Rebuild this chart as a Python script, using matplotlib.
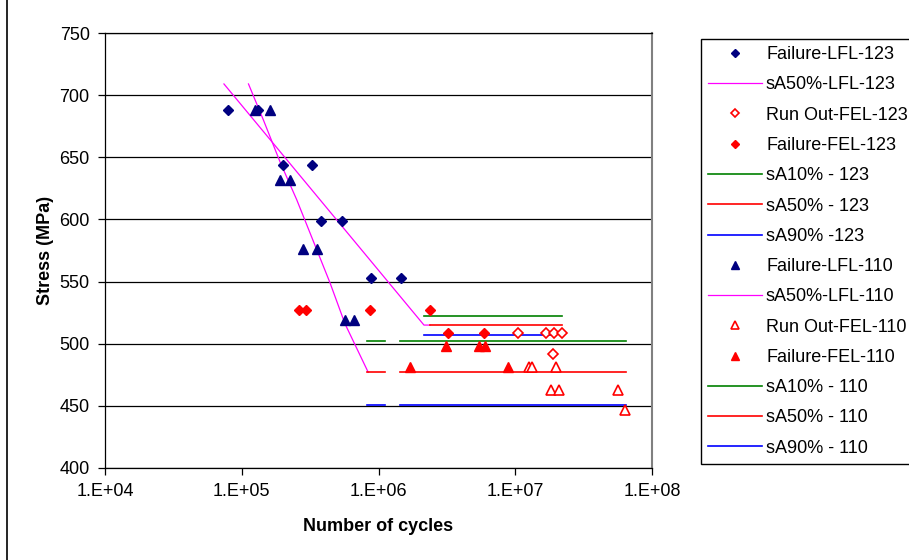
import numpy as np
import matplotlib
matplotlib.use("Agg")
import matplotlib.pyplot as plt
from matplotlib.lines import Line2D

plt.rcParams['font.family'] = ['Liberation Sans', 'DejaVu Sans']

# ---------------- data ----------------
fail_lfl_123_N = [7.98e4, 1.32e5, 1.99e5, 3.27e5, 3.78e5, 5.43e5, 8.81e5, 1.46e6]
fail_lfl_123_S = [688, 688, 644, 644, 599, 599, 553, 553]

sa50_lfl_123_N = [7.41e4, 2.15e6, 2.38e6]
sa50_lfl_123_S = [709, 515, 515]

runout_fel_123_N = [1.05e7, 1.67e7, 1.92e7, 2.19e7, 1.89e7]
runout_fel_123_S = [509, 509, 509, 509, 492]

fail_fel_123_N = [2.62e5, 2.95e5, 8.63e5, 2.38e6, 3.21e6, 5.91e6]
fail_fel_123_S = [527, 527, 527, 527, 509, 509]

sa10_123_N = [2.15e6, 2.19e7]
sa10_123_S = [522, 522]
sa50_123_N = [2.38e6, 2.19e7]
sa50_123_S = [515, 515]
sa90_123_N = [2.15e6, 1.95e7]
sa90_123_S = [507, 507]

fail_lfl_110_N = [1.24e5, 1.61e5, 1.90e5, 2.25e5, 2.81e5, 3.55e5, 5.69e5, 6.59e5]
fail_lfl_110_S = [688, 688, 632, 632, 576, 576, 519, 519]

sa50_lfl_110_N = [1.12e5, 1.44e5, 1.91e5, 2.52e5, 3.16e5, 4.42e5, 5.69e5, 8.41e5]
sa50_lfl_110_S = [709, 680, 646, 616, 589, 549, 516, 477]

runout_fel_110_N = [1.26e7, 1.32e7, 1.99e7, 1.84e7, 2.10e7, 5.64e7, 6.35e7]
runout_fel_110_S = [481, 481, 481, 463, 463, 463, 447]

fail_fel_110_N = [1.70e6, 3.12e6, 5.46e6, 6.01e6, 8.89e6]
fail_fel_110_S = [481, 498, 498, 498, 481]

sa_110_N = [8.28e5, 1.12e6, np.nan, 1.44e6, 6.43e7]
sa10_110_S = [502, 502, np.nan, 502, 502]
sa50_110_S = [477, 477, np.nan, 477, 477]
sa90_110_S = [451, 451, np.nan, 451, 451]

y_ticks = [400, 450, 500, 550, 600, 650, 700, 750]
x_ticks = [1e4, 1e5, 1e6, 1e7, 1e8]
x_tick_labels = ["1.E+04", "1.E+05", "1.E+06", "1.E+07", "1.E+08"]

labels = ["Failure-LFL-123", "sA50%-LFL-123", "Run Out-FEL-123", "Failure-FEL-123",
          "sA10% - 123", "sA50% - 123", "sA90% -123",
          "Failure-LFL-110", "sA50%-LFL-110", "Run Out-FEL-110", "Failure-FEL-110",
          "sA10% - 110", "sA50% - 110", "sA90% - 110"]

# ---------------- figure ----------------
W, H = 909, 560
fig = plt.figure(figsize=(W / 100, H / 100), dpi=100)
ax = fig.add_axes([105 / W, 1 - 468 / H, 547 / W, 435 / H])

navy = '#000080'
mag = '#FF00FF'
red = '#FF0000'
green = '#008000'
blue = '#0000FF'

for y in y_ticks:
    ax.axhline(y, color='black', lw=0.9, zorder=0)

dms = 5.3
tms = 6.8
h = []
h.append(ax.plot(fail_lfl_123_N, fail_lfl_123_S, ls='none', marker='D', ms=dms, color=navy, zorder=5)[0])
h.append(ax.plot(sa50_lfl_123_N, sa50_lfl_123_S, color=mag, lw=0.9, zorder=3)[0])
h.append(ax.plot(runout_fel_123_N, runout_fel_123_S, ls='none', marker='D', ms=dms, mfc='white',
                 mec=red, mew=1.2, zorder=5)[0])
h.append(ax.plot(fail_fel_123_N, fail_fel_123_S, ls='none', marker='D', ms=dms, color=red, zorder=5)[0])
h.append(ax.plot(sa10_123_N, sa10_123_S, color=green, lw=1.2, zorder=3)[0])
h.append(ax.plot(sa50_123_N, sa50_123_S, color=red, lw=1.2, zorder=3)[0])
h.append(ax.plot(sa90_123_N, sa90_123_S, color=blue, lw=1.2, zorder=3)[0])
h.append(ax.plot(fail_lfl_110_N, fail_lfl_110_S, ls='none', marker='^', ms=tms, color=navy, zorder=5)[0])
h.append(ax.plot(sa50_lfl_110_N, sa50_lfl_110_S, color=mag, lw=0.9, zorder=3)[0])
h.append(ax.plot(runout_fel_110_N, runout_fel_110_S, ls='none', marker='^', ms=tms, mfc='white',
                 mec=red, mew=1.2, zorder=5)[0])
h.append(ax.plot(fail_fel_110_N, fail_fel_110_S, ls='none', marker='^', ms=tms, color=red, zorder=5)[0])
h.append(ax.plot(sa_110_N, sa10_110_S, color=green, lw=1.2, zorder=3)[0])
h.append(ax.plot(sa_110_N, sa50_110_S, color=red, lw=1.2, zorder=3)[0])
h.append(ax.plot(sa_110_N, sa90_110_S, color=blue, lw=1.2, zorder=3)[0])

ax.set_xscale('log')
ax.set_xlim(1e4, 1e8)
ax.set_ylim(400, 750)
ax.set_xticks(x_ticks)
ax.set_xticklabels(x_tick_labels)
ax.xaxis.set_minor_locator(matplotlib.ticker.NullLocator())
ax.set_yticks(y_ticks)
ax.set_yticklabels([str(v) for v in y_ticks])
ax.tick_params(axis='both', direction='out', length=5, width=0.9, color='black',
               labelsize=13)
ax.tick_params(axis='x', pad=6)
ax.tick_params(axis='y', pad=6)

for s in ['left', 'bottom', 'top']:
    ax.spines[s].set_color('black')
    ax.spines[s].set_linewidth(0.9)
ax.spines['right'].set_color('#808080')
ax.spines['right'].set_linewidth(1.5)

ax.set_xlabel("Number of cycles", fontsize=13, fontweight='bold', labelpad=13)
ax.set_ylabel("Stress (MPa)", fontsize=13, fontweight='bold', labelpad=4)

leg = fig.legend(h, labels, loc='upper left', bbox_to_anchor=(701 / W, 1 - 39 / H),
                 bbox_transform=fig.transFigure, borderaxespad=0, fontsize=13,
                 frameon=True, fancybox=False, edgecolor='black', framealpha=1,
                 handlelength=3.0, handletextpad=0.2, borderpad=0.4,
                 labelspacing=0.735, markerscale=0.8, numpoints=1)
leg.get_frame().set_linewidth(1.0)

fig.add_artist(Line2D([7 / W, 7 / W], [0, 1], color='black', lw=1.2, transform=fig.transFigure))

fig.savefig("out.png", dpi=100)
